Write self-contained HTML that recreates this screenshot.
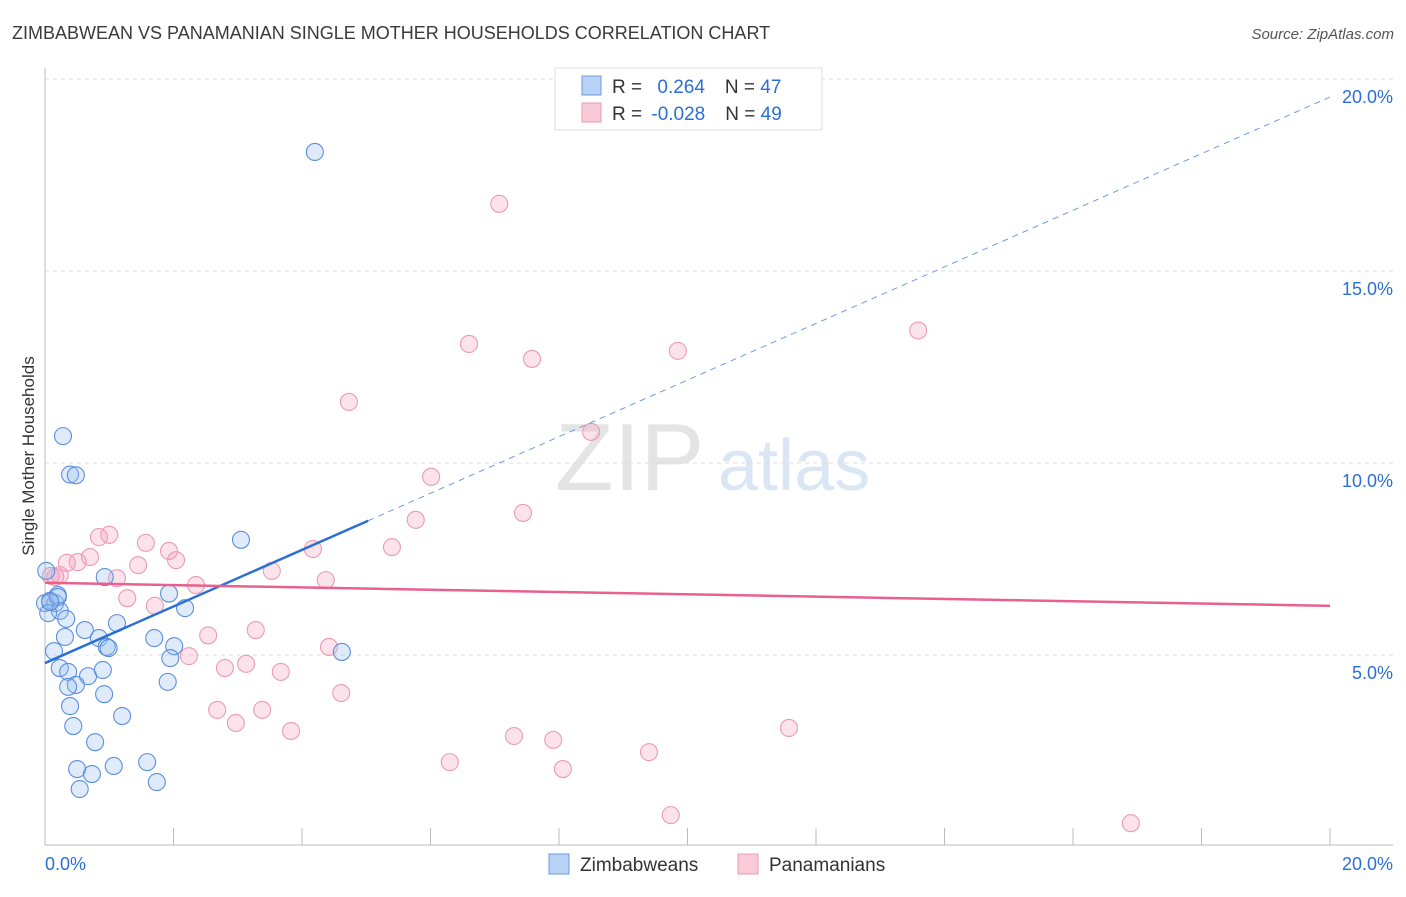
<!DOCTYPE html>
<html><head><meta charset="utf-8"><style>
body{margin:0;background:#fff;font-family:"Liberation Sans",sans-serif;}
svg text{font-family:"Liberation Sans",sans-serif;}
</style></head><body>
<svg width="1406" height="892" xmlns="http://www.w3.org/2000/svg">
<text x="12" y="39" font-size="18" fill="#3a3a3a">ZIMBABWEAN VS PANAMANIAN SINGLE MOTHER HOUSEHOLDS CORRELATION CHART</text>
<text x="1394" y="39" font-size="15" fill="#555" text-anchor="end" font-style="italic">Source: ZipAtlas.com</text>
<text x="555" y="490" font-size="96" fill="#e4e4e4" font-family="Liberation Serif">ZIP</text>
<text x="718" y="490" font-size="72" fill="#dbe6f5">atlas</text>
<g id="grid"></g>
<g id="axes"></g>
<g id="pts"></g>
<g id="trend"></g>
<text transform="translate(34,456) rotate(-90)" font-size="17" fill="#333" text-anchor="middle">Single Mother Households</text>
<g>
<rect x="555" y="68" width="267" height="62" fill="#fff" stroke="#ddd"/>
<rect x="582" y="76" width="19" height="19" fill="#b8d2f5" stroke="#6b9be0"/>
<rect x="582" y="103" width="19" height="19" fill="#f9cad8" stroke="#ec9ab4"/>
<text x="612" y="93" font-size="19" fill="#333">R = <tspan fill="#2a6fd6" dx="10">0.264</tspan><tspan dx="20">N = </tspan><tspan fill="#2a6fd6">47</tspan></text>
<text x="612" y="120" font-size="19" fill="#333">R = <tspan fill="#2a6fd6" dx="4">-0.028</tspan><tspan dx="20">N = </tspan><tspan fill="#2a6fd6">49</tspan></text>
</g>
<g>
<rect x="549" y="854" width="20" height="20" fill="#b8d2f5" stroke="#6b9be0"/>
<text x="580" y="871" font-size="19" fill="#333">Zimbabweans</text>
<rect x="738" y="854" width="20" height="20" fill="#f9cad8" stroke="#ec9ab4"/>
<text x="769" y="871" font-size="19" fill="#333">Panamanians</text>
</g>
</svg>
<script>
const yTicks=[5,10,15,20];
const yTickLabels=["5.0%","10.0%","15.0%","20.0%"];
const xTickLabels=["0.0%","20.0%"];
const blueX=[4.2,0.28,0.39,0.48,3.05,0.93,0.02,1.93,0.08,0.16,0,0.2,0.23,0.05,0.33,2.18,1.12,0.62,0.31,0.84,1.7,0.96,0.99,2.01,4.62,0.14,1.95,0.23,0.36,0.67,0.9,0.48,0.36,1.91,0.92,0.39,1.2,0.44,0.78,1.07,1.59,0.5,0.73,1.74,0.54,0.2,0.08];
const blueY=[18.1,10.7,9.7,9.68,8.0,7.03,7.19,6.6,6.41,6.35,6.35,6.56,6.15,6.09,5.94,6.22,5.83,5.65,5.47,5.44,5.44,5.21,5.18,5.23,5.08,5.1,4.92,4.66,4.56,4.45,4.61,4.22,4.17,4.3,3.98,3.67,3.41,3.15,2.73,2.11,2.21,2.03,1.9,1.69,1.51,6.51,6.38];
const pinkX=[7.07,6.6,7.58,9.85,13.59,4.73,8.5,6.01,7.44,5.77,1.0,0.84,1.57,5.4,1.93,0.7,2.04,0.51,0.34,1.45,4.17,3.53,1.12,0.23,0.16,0.09,2.35,4.37,1.28,1.71,2.54,3.28,4.42,2.24,3.13,2.8,3.67,4.61,2.68,3.38,2.97,3.83,7.3,7.91,11.58,9.4,6.3,8.06,9.74,16.9];
const pinkY=[16.75,13.1,12.71,12.92,13.45,11.59,10.81,9.64,8.7,8.52,8.13,8.07,7.92,7.81,7.71,7.55,7.47,7.42,7.4,7.34,7.76,7.19,7.0,7.08,7.03,7.06,6.82,6.95,6.48,6.28,5.51,5.65,5.21,4.97,4.77,4.66,4.56,4.01,3.57,3.57,3.23,3.02,2.89,2.79,3.1,2.47,2.21,2.03,0.83,0.62];
const blueTrend=[4.79,19.53];
const blueSolidEnd=5.03;
const pinkTrend=[6.88,6.28];
const NS="http://www.w3.org/2000/svg";
const X=v=>45+v/20*1285, Y=v=>847-v*38.4;
function mk(tag,attrs,parent){const e=document.createElementNS(NS,tag);for(const k in attrs)e.setAttribute(k,attrs[k]);document.getElementById(parent).appendChild(e);return e;}
yTicks.forEach((t,i)=>{
 const g=mk('line',{x1:45,x2:1393,y1:Y(t),y2:Y(t),stroke:'#ddd','stroke-dasharray':'4,4'},'grid');
 
 
 const tx=mk('text',{x:1393,y:Y(t)+24,'font-size':18,fill:'#2a6fd6','text-anchor':'end'},'grid');
 tx.textContent=yTickLabels[i];
 
 
});
const ax=mk('line',{x1:45,x2:45,y1:68,y2:845,stroke:'#bbb'},'axes');


const bx=mk('line',{x1:45,x2:1393,y1:845,y2:845,stroke:'#bbb'},'axes');


for(let i=1;i<=10;i++){const t=mk('line',{x1:X(i*2),x2:X(i*2),y1:828,y2:845,stroke:'#bbb'},'axes');
 
 }
[[0,'start',45],[20,'end',1393]].forEach((d,i)=>{const t=mk('text',{x:d[2],y:870,'font-size':18,fill:'#2a6fd6','text-anchor':d[1]},'axes');t.textContent=xTickLabels[i];
 
 });
pinkX.forEach((x,i)=>{const c=mk('circle',{cx:X(x),cy:Y(pinkY[i]),r:8.5,fill:'rgba(244,160,188,0.3)',stroke:'#ec9ab4','stroke-width':1.1},'pts');
 
 });
blueX.forEach((x,i)=>{const c=mk('circle',{cx:X(x),cy:Y(blueY[i]),r:8.5,fill:'rgba(150,190,240,0.3)',stroke:'#5a8fdc','stroke-width':1.1},'pts');
 
 });
const by=x=>blueTrend[0]+(blueTrend[1]-blueTrend[0])*x/20;
const l1=mk('line',{x1:X(0),y1:Y(by(0)),x2:X(blueSolidEnd),y2:Y(by(blueSolidEnd)),stroke:'#2a6fd6','stroke-width':2.5},'trend');


const l2=mk('line',{x1:X(blueSolidEnd),y1:Y(by(blueSolidEnd)),x2:X(20),y2:Y(by(20)),stroke:'#6b9be0','stroke-width':1,'stroke-dasharray':'6,5'},'trend');


const l3=mk('line',{x1:X(0),y1:Y(pinkTrend[0]),x2:X(20),y2:Y(pinkTrend[1]),stroke:'#e8608c','stroke-width':2.5},'trend');


</script>
</body></html>
